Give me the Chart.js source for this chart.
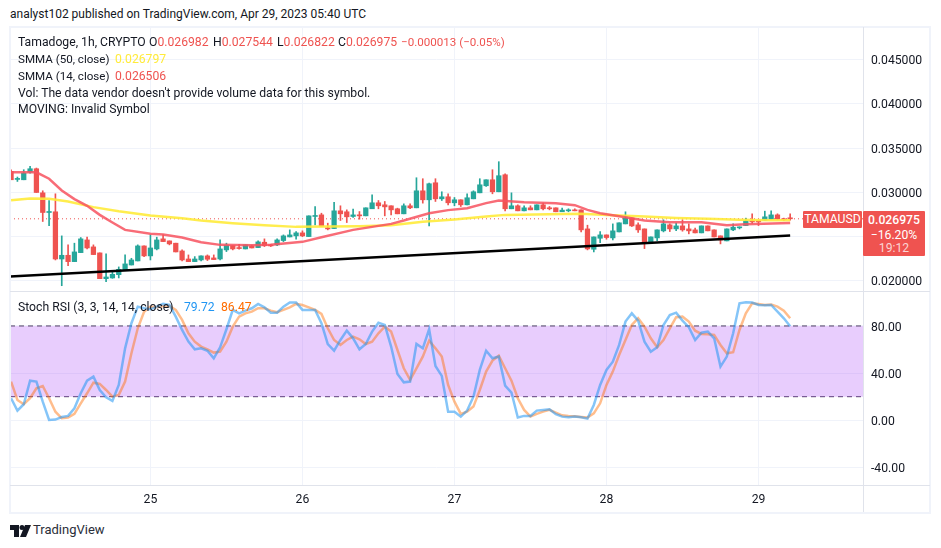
<!DOCTYPE html>
<html>
<head>
<meta charset="utf-8">
<title>TAMAUSD</title>
<script src="https://cdn.jsdelivr.net/npm/chart.js@4"></script>
<style>
    html, body { margin: 0; padding: 0; background: #fff; }
    body { width: 941px; height: 548px; position: relative; overflow: hidden; font-family: Roboto, sans-serif; font-size: 12.2px; color: #131722; }
    canvas { position: absolute; }
    .t { position: absolute; white-space: pre; line-height: 16px; }
    .r { color: #ef5350; }
    .line { position: absolute; background: #e0e3eb; }
    .thick { position: absolute; background: #f0f3fa; }
    .tag { position: absolute; background: #ef5350; color: #fff; text-align: center; border-radius: 1px; }
</style>
</head>
<body>
<div class="t" style="left:10px;top:6px;font-size:12px">analyst102 published on TradingView.com, Apr 29, 2023 05:40 UTC</div>

<canvas id="priceChart" style="left:10px;top:27px"></canvas>
<canvas id="stochChart" style="left:10px;top:292px"></canvas>

<!-- frame of the panes -->
<div class="thick" style="left:9px;top:26px;width:922px;height:2px"></div>
<div class="thick" style="left:9px;top:26px;width:2px;height:488px"></div>
<div class="thick" style="left:929px;top:26px;width:2px;height:488px"></div>
<div class="thick" style="left:9px;top:512px;width:922px;height:2px"></div>
<div class="line" style="left:10px;top:291px;width:920px;height:1px"></div>
<div class="line" style="left:10px;top:485px;width:920px;height:1px"></div>
<div class="line" style="left:863px;top:27px;width:1px;height:485px"></div>

<div class="t" style="left:18px;top:34px">Tamadoge, 1h, CRYPTO</div>
<div class="t" style="left:149px;top:34px">O<span class="r">0.026982</span></div>
<div class="t" style="left:213px;top:34px">H<span class="r">0.027544</span></div>
<div class="t" style="left:277px;top:34px">L<span class="r">0.026822</span></div>
<div class="t" style="left:338px;top:34px">C<span class="r">0.026975</span></div>
<div class="t r" style="left:401px;top:34px;font-size:11.6px">−0.000013 (−0.05%)</div>
<div class="t" style="left:18px;top:51px;font-size:11.6px">SMMA (50, close)</div>
<div class="t" style="left:115px;top:51px;color:#ffeb3b">0.026797</div>
<div class="t" style="left:18px;top:68px;font-size:11.6px">SMMA (14, close)</div>
<div class="t r" style="left:115px;top:68px">0.026506</div>
<div class="t" style="left:18px;top:85px">Vol: The data vendor doesn't provide volume data for this symbol.</div>
<div class="t" style="left:18px;top:101px">MOVING: Invalid Symbol</div>

<div class="tag" style="left:803px;top:211px;width:59px;height:17px;line-height:17px">TAMAUSD</div>
<div class="tag" style="left:863px;top:211px;width:62px;height:45px">
    <div style="line-height:15px;margin-top:2px;font-weight:500">0.026975</div>
    <div style="line-height:14px">−16.20%</div>
    <div style="line-height:13px;color:#fbd5d4">19:12</div>
</div>

<div class="t" style="left:18px;top:299px">Stoch RSI (3, 3, 14, 14, close)</div>
<div class="t" style="left:184px;top:299px;color:#2196f3">79.72</div>
<div class="t" style="left:221px;top:299px;color:#ff6d00">86.47</div>

<svg style="position:absolute;left:10px;top:525px" width="21" height="12" viewBox="0 0 21 12">
    <path d="M0 0h9v12H4V5H0z M15 0h6l-5 12h-6z" fill="#131722"/>
    <circle cx="12" cy="2.5" r="2.5" fill="#131722"/>
</svg>
<div class="t" style="left:33px;top:522px;font-size:13px;color:#2a2e39">TradingView</div>

<script>
// Hours since Apr 24 00:00, one candle per hour
const firstHour = 2;
const opens = [0.03235,0.03144,0.03140,0.03227,0.03265,0.02992,0.02769,0.02777,0.02242,0.02284,0.02212,0.02314,0.02458,0.02379,0.02311,0.02019,0.02027,0.02064,0.02121,0.02174,0.02220,0.02390,0.02277,0.02356,0.02470,0.02447,0.02421,0.02333,0.02242,0.02212,0.02231,0.02277,0.02254,0.02242,0.02345,0.02394,0.02371,0.02356,0.02390,0.02371,0.02432,0.02402,0.02402,0.02451,0.02492,0.02504,0.02538,0.02496,0.02724,0.02742,0.02595,0.02587,0.02788,0.02777,0.02724,0.02742,0.02731,0.02811,0.02879,0.02856,0.02845,0.02811,0.02754,0.02845,0.02822,0.03015,0.02913,0.03106,0.02924,0.02947,0.02879,0.02913,0.02856,0.02924,0.02992,0.03072,0.03140,0.03004,0.03197,0.02811,0.02845,0.02788,0.02822,0.02799,0.02856,0.02822,0.02822,0.02777,0.02788,0.02799,0.02799,0.02583,0.02352,0.02477,0.02515,0.02481,0.02549,0.02640,0.02708,0.02629,0.02583,0.02424,0.02481,0.02561,0.02629,0.02583,0.02617,0.02583,0.02572,0.02538,0.02617,0.02572,0.02504,0.02447,0.02572,0.02595,0.02621,0.02674,0.02674,0.02682,0.02693,0.02742,0.02697,0.026982];
const highs = [0.03254,0.03171,0.03254,0.03292,0.03273,0.03015,0.02905,0.02981,0.02504,0.02402,0.02421,0.02485,0.02489,0.02402,0.02311,0.02299,0.02099,0.02152,0.02288,0.02250,0.02402,0.02390,0.02515,0.02489,0.02515,0.02447,0.02421,0.02345,0.02288,0.02269,0.02277,0.02288,0.02288,0.02458,0.02421,0.02394,0.02409,0.02402,0.02398,0.02447,0.02470,0.02409,0.02470,0.02515,0.02572,0.02553,0.02561,0.02731,0.02837,0.02761,0.02648,0.02883,0.02845,0.02799,0.02807,0.02780,0.02822,0.02970,0.02905,0.02894,0.02845,0.02818,0.02867,0.02867,0.03163,0.03152,0.03102,0.03152,0.03004,0.02981,0.02939,0.02913,0.02981,0.03015,0.03152,0.03140,0.03254,0.03345,0.03208,0.02992,0.02856,0.02845,0.02845,0.02856,0.02875,0.02837,0.02822,0.02818,0.02811,0.02811,0.02799,0.02625,0.02492,0.02553,0.02515,0.02640,0.02652,0.02777,0.02708,0.02652,0.02583,0.02492,0.02572,0.02686,0.02640,0.02648,0.02686,0.02640,0.02591,0.02617,0.02617,0.02572,0.02504,0.02583,0.02640,0.02606,0.02705,0.02754,0.02674,0.02784,0.02788,0.02754,0.02705,0.027544];
const lows = [0.03140,0.03121,0.03140,0.03216,0.02996,0.02667,0.02621,0.02231,0.01939,0.02167,0.02212,0.02314,0.02356,0.02292,0.02019,0.01985,0.02023,0.02027,0.02121,0.02174,0.02220,0.02269,0.02231,0.02345,0.02439,0.02402,0.02322,0.02220,0.02212,0.02212,0.02220,0.02224,0.02235,0.02231,0.02326,0.02345,0.02352,0.02356,0.02367,0.02371,0.02383,0.02383,0.02394,0.02439,0.02492,0.02466,0.02496,0.02496,0.02629,0.02614,0.02572,0.02587,0.02678,0.02655,0.02712,0.02693,0.02731,0.02811,0.02811,0.02731,0.02742,0.02754,0.02754,0.02811,0.02822,0.02875,0.02617,0.02894,0.02905,0.02856,0.02845,0.02837,0.02856,0.02924,0.02992,0.03064,0.02981,0.03004,0.02788,0.02811,0.02788,0.02788,0.02799,0.02799,0.02799,0.02799,0.02777,0.02777,0.02777,0.02788,0.02549,0.02345,0.02322,0.02428,0.02466,0.02458,0.02549,0.02640,0.02610,0.02542,0.02360,0.02424,0.02451,0.02549,0.02553,0.02564,0.02557,0.02527,0.02538,0.02538,0.02561,0.02492,0.02413,0.02447,0.02564,0.02583,0.02621,0.02648,0.02621,0.02682,0.02693,0.02686,0.02678,0.026822];
const closes = [0.03140,0.03155,0.03216,0.03265,0.02996,0.02769,0.02777,0.02242,0.02284,0.02212,0.02322,0.02470,0.02367,0.02292,0.02019,0.02038,0.02068,0.02125,0.02186,0.02231,0.02390,0.02277,0.02367,0.02458,0.02439,0.02413,0.02322,0.02231,0.02212,0.02242,0.02277,0.02239,0.02235,0.02356,0.02398,0.02356,0.02360,0.02402,0.02367,0.02436,0.02394,0.02390,0.02458,0.02504,0.02515,0.02538,0.02504,0.02731,0.02731,0.02614,0.02583,0.02788,0.02754,0.02720,0.02742,0.02731,0.02822,0.02879,0.02845,0.02833,0.02799,0.02754,0.02845,0.02822,0.03015,0.02913,0.03095,0.02924,0.02947,0.02879,0.02913,0.02856,0.02936,0.03004,0.03083,0.03140,0.03004,0.03186,0.02811,0.02845,0.02788,0.02822,0.02799,0.02856,0.02811,0.02811,0.02777,0.02796,0.02796,0.02788,0.02572,0.02356,0.02492,0.02515,0.02485,0.02561,0.02652,0.02708,0.02617,0.02572,0.02424,0.02492,0.02572,0.02640,0.02583,0.02617,0.02572,0.02561,0.02538,0.02617,0.02561,0.02492,0.02458,0.02583,0.02602,0.02606,0.02674,0.02663,0.02663,0.02720,0.02742,0.02697,0.02686,0.026975];

const smma50Hours = [2,5,8,11,15,19,24,29,32,37,42,47,52,57,62,67,72,77,80,87,92,97,102,107,112,117,122,125];
const smma50Values = [0.02909,0.02928,0.02924,0.02894,0.02830,0.02784,0.02735,0.02705,0.02678,0.02648,0.02625,0.02606,0.02610,0.02614,0.02625,0.02663,0.02690,0.02724,0.02742,0.02750,0.02754,0.02739,0.02724,0.02708,0.02697,0.02686,0.02682,0.026797];
const smma14Hours = [2,6,8,10,12,14,16,18,20,24,26,29,32,35,40,43,48,51,56,62,64,68,71,74,77,79,83,88,91,93,95,99,102,106,111,115,118,125];
const smma14Values = [0.03224,0.03224,0.03152,0.03019,0.02921,0.02845,0.02742,0.02655,0.02572,0.02527,0.02519,0.02485,0.02432,0.02402,0.02398,0.02402,0.02436,0.02489,0.02572,0.02640,0.02678,0.02761,0.02796,0.02818,0.02875,0.02905,0.02886,0.02875,0.02852,0.02799,0.02761,0.02716,0.02678,0.02659,0.02659,0.02625,0.02636,0.026506];

const trendHours = [1.83, 125];
const trendValues = [0.02042, 0.02508];
const lastPrice = 0.026975;

const stochK = [18.7,8.2,13.6,33.6,32.8,15.8,0.3,0.6,2.8,3.7,10.2,22.9,33.6,37,25.7,19.5,16.4,30,61,82.3,96.4,95,94.1,96.4,98.7,97.8,87.9,76.6,66.7,60.2,61,59,52.6,61.9,77.2,93.6,90.7,93,95,98.7,95.8,91.3,91.3,96.4,100,100,93.6,93.6,93.6,82.3,64.7,59,68.1,76,69.5,60.2,64.7,75.2,82.8,80.8,62.5,39.3,32.2,32.8,64.7,61,77.2,46,37.6,7.3,7.3,3.1,8.2,20,42.7,59,52.6,54,29.4,23.5,2.3,3.7,3.7,8.2,8.8,9.3,5.1,3.1,2.5,3.1,2.5,1.4,13,30,42.7,49.7,63.9,83.7,90.7,84.5,66.7,58.2,61.9,80.8,89.3,91.3,84.5,78.9,68.1,74.3,75.2,69.5,45.5,54,73.8,99.2,100,99.8,97.8,97.5,97.8,92.1,86.5,79.72];
const stochD = [32.8,17.2,13.6,18.7,27.1,29.1,18.7,7.3,1.7,2.3,5.4,14.4,22.9,31.9,30.8,25.7,20,21.5,32.8,56.8,78,92.1,96.4,95.8,97,97,93.6,85.1,73.8,66.7,62.5,60.2,57.4,58.2,66.7,79.4,87.9,90.7,92.1,95,95,93,91.6,93.6,95.8,98.7,97.8,95.8,93.6,90.2,78,68.1,63.9,68.1,70.9,68.7,64.7,66.7,73.8,79.4,75.2,59.6,44.1,34.2,44.1,54,67.6,61,54,30,15.8,5.4,7.3,11.6,25.7,41.3,50.6,54.8,44.1,33.6,18.7,8.8,3.1,5.4,7.3,8.8,6.5,4.2,3.7,3.4,2.8,2.3,5.9,14.4,30,41.3,55.4,68.1,80.8,86.5,79.4,69.5,61.9,68.1,78,87.4,87.9,83.7,76,73.2,72.9,72.4,63.9,56.8,57.7,76.6,90.7,99.2,98.7,97.8,98.1,96.4,93,86.47];
const bandUpper = 80;
const bandLower = 20;

const GREEN = '#26a69a';
const RED = '#ef5350';
const GRID = '#f0f3fa';
const xMin = 1.83;
const xMax = 136.5;
const axisWidth = 67;
const hours = opens.map((_, i) => firstHour + i);
const candleColors = opens.map((o, i) => closes[i] >= o ? GREEN : RED);
const pairs = (xs, ys) => xs.map((x, i) => ({ x: x, y: ys[i] }));
const edges = v => [{ x: xMin, y: v }, { x: xMax, y: v }];
const tickFont = { family: 'Roboto, sans-serif', size: 12.2 };

function lineSet(data, color, width) {
    return { type: 'line', data: data, borderColor: color, borderWidth: width, pointRadius: 0, tension: 0, fill: false };
}

function yAxis(min, max, step, digits) {
    return {
        position: 'right',
        min: min,
        max: max,
        beginAtZero: false,
        grid: { color: GRID, drawTicks: false },
        border: { display: false },
        // the labels must not push the plot area away from the pane edges
        afterFit: function(scale) {
            scale.width = axisWidth;
            scale.paddingTop = 0;
            scale.paddingBottom = 0;
        },
        ticks: {
            stepSize: step,
            includeBounds: false,
            padding: 8,
            labelOffset: 1.5,
            color: '#131722',
            font: tickFont,
            callback: v => Number(v).toFixed(digits)
        }
    };
}

function xAxis(showLabels) {
    return {
        type: 'linear',
        min: xMin,
        max: xMax,
        offset: false,
        grid: { color: GRID, drawTicks: false, offset: false },
        border: { display: false },
        afterFit: function(scale) {
            scale.height = showLabels ? 27 : 0;
            scale.paddingLeft = 0;
            scale.paddingRight = 0;
        },
        ticks: {
            display: showLabels,
            stepSize: 24,
            includeBounds: false,
            autoSkip: false,
            maxRotation: 0,
            padding: 8,
            color: '#131722',
            font: tickFont,
            callback: v => 24 + v / 24
        }
    };
}

const baseOptions = {
    responsive: false,
    animation: false,
    events: [],
    layout: { padding: 0 },
    plugins: { legend: { display: false }, tooltip: { enabled: false } }
};

// Price pane
const priceCanvas = document.getElementById('priceChart');
priceCanvas.width = 920;
priceCanvas.height = 264;
new Chart(priceCanvas.getContext('2d'), {
    type: 'bar',
    data: {
        datasets: [
            Object.assign(lineSet(pairs(trendHours, trendValues), '#000000', 2.5), { order: 1 }),
            Object.assign(lineSet(pairs(smma14Hours, smma14Values), 'rgba(247,82,95,0.85)', 2.5), { order: 2 }),
            Object.assign(lineSet(pairs(smma50Hours, smma50Values), 'rgba(255,235,59,0.9)', 2.5), { order: 3 }),
            Object.assign(lineSet(edges(lastPrice), RED, 1), { borderDash: [1, 3], order: 6 }),
            {
                data: hours.map((h, i) => ({ x: h, y: [opens[i], closes[i]] })),
                backgroundColor: candleColors,
                barThickness: 4.6,
                minBarLength: 1,
                grouped: false,
                order: 4
            },
            {
                data: hours.map((h, i) => ({ x: h, y: [lows[i], highs[i]] })),
                backgroundColor: candleColors,
                barThickness: 1,
                grouped: false,
                order: 5
            }
        ]
    },
    options: Object.assign({}, baseOptions, {
        scales: { x: xAxis(false), y: yAxis(0.01879, 0.04872, 0.005, 6) }
    })
});

// Stoch RSI pane, carries the date axis
const stochCanvas = document.getElementById('stochChart');
stochCanvas.width = 920;
stochCanvas.height = 220;
new Chart(stochCanvas.getContext('2d'), {
    type: 'line',
    data: {
        datasets: [
            lineSet(pairs(hours, stochK), 'rgba(33,150,243,0.55)', 2.5),
            lineSet(pairs(hours, stochD), 'rgba(255,109,0,0.45)', 2.5),
            Object.assign(lineSet(edges(bandUpper), '#4f4163', 1), { borderDash: [5, 4], fill: '+1', backgroundColor: 'rgba(163,55,247,0.25)' }),
            Object.assign(lineSet(edges(bandLower), '#4f4163', 1), { borderDash: [5, 4] })
        ]
    },
    options: Object.assign({}, baseOptions, {
        scales: { x: xAxis(true), y: yAxis(-54.9, 108.8, 40, 2) }
    })
});
</script>
</body>
</html>
